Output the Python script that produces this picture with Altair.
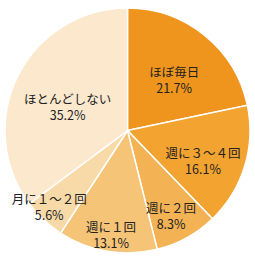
import altair as alt
import pandas as pd

categories = ["ほぼ毎日", "週に３～４回", "週に２回", "週に１回", "月に１～２回", "ほとんどしない"]
values = [21.7, 16.1, 8.3, 13.1, 5.6, 35.2]
colors = ["#EF951E", "#F2A330", "#F3B254", "#F5C477", "#F8D9A8", "#FBE8CD"]
# label placement (pixels from the centre, and angular nudge in % of the circle)
label_radius = [74, 79, 90, 99, 105, 67]
label_nudge = [0, 0, 0, 0, 1.4, 0]

df = pd.DataFrame({
    "cat": categories,
    "val": values,
    "order": list(range(len(categories))),
    "r": label_radius,
    "nudge": label_nudge,
})
df["label"] = [f"{c}\n{v:.1f}%" for c, v in zip(categories, values)]

theta_scale = alt.Scale(domain=[0, 100], range=[0, 6.283185307179586])

base = alt.Chart(df).transform_window(
    cum="sum(val)", sort=[alt.SortField("order")], frame=[None, 0]
).transform_calculate(
    start="datum.cum - datum.val",
    mid="datum.cum - datum.val / 2 + datum.nudge",
)

arcs = base.mark_arc(outerRadius=122.5, stroke="white", strokeWidth=1.5).encode(
    theta=alt.Theta("start:Q", scale=theta_scale, stack=None),
    theta2="cum:Q",
    color=alt.Color("cat:N", scale=alt.Scale(domain=categories, range=colors), legend=None),
)

labels = base.mark_text(
    lineBreak="\n", font="Noto Sans CJK JP", fontSize=12.5, color="#222222",
    lineHeight=16, align="center", baseline="middle"
).encode(
    theta=alt.Theta("mid:Q", scale=theta_scale, stack=None),
    radius=alt.Radius("r:Q", scale=None),
    text="label:N",
)

chart = (arcs + labels).properties(
    width=255, height=261, padding=0,
    autosize=alt.AutoSizeParams(type="none"),
).configure_view(stroke=None)

chart.save("out.html", embed_options={"renderer": "svg", "actions": False})
